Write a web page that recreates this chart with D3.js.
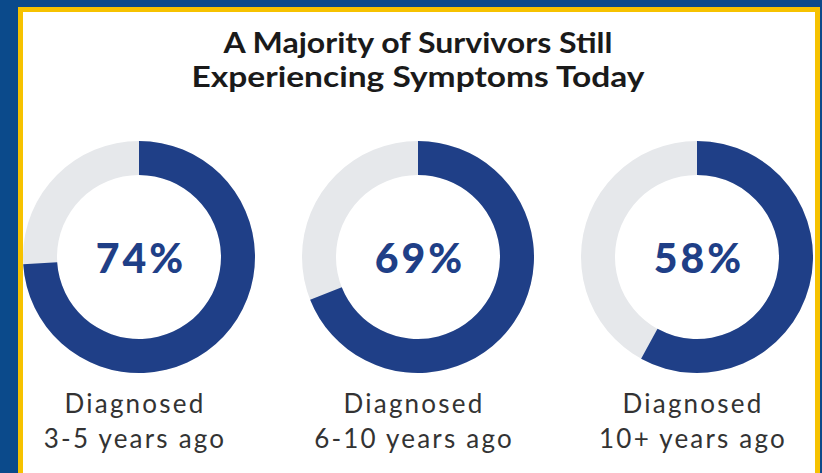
<!DOCTYPE html>
<html>
<head>
<meta charset="utf-8">
<script src="https://cdn.jsdelivr.net/npm/d3@7"></script>
<style>
  html, body { margin: 0; padding: 0; background: #0b4a8b; }
  svg { display: block; }
</style>
</head>
<body>
<svg id="chart" width="822" height="473"></svg>
<script>
const titleLines = ["A Majority of Survivors Still", "Experiencing Symptoms Today"];
const categories = ["Diagnosed\n3-5 years ago", "Diagnosed\n6-10 years ago", "Diagnosed\n10+ years ago"];
const values = [74, 69, 58];

const W = 822, H = 473;
const svg = d3.select("#chart");

// background + frame
svg.append("rect").attr("x", 0).attr("y", 0).attr("width", W).attr("height", H).attr("fill", "#0b4a8b");
svg.append("rect").attr("x", 18).attr("y", 7).attr("width", 802).attr("height", 480).attr("fill", "#f6c200");
svg.append("rect").attr("x", 23).attr("y", 12).attr("width", 792).attr("height", 480).attr("fill", "#ffffff");

// title
const title = svg.append("text")
  .attr("text-anchor", "middle")
  .attr("font-family", "Lato, 'Noto Sans', sans-serif")
  .attr("font-weight", 700)
  .attr("font-size", 28)
  .attr("fill", "#1a1a1a");
title.selectAll("tspan").data(titleLines).join("tspan")
  .attr("x", 418)
  .attr("y", (d, i) => 53 + i * 34)
  .attr("textLength", (d, i) => i === 0 ? 389 : 453)
  .attr("lengthAdjust", "spacingAndGlyphs")
  .text(d => d);

const x = d3.scalePoint().domain(categories).range([139, 697]);
const angle = d3.scaleLinear().domain([0, 100]).range([0, 2 * Math.PI]);
const cy = 257;
const arc = d3.arc().innerRadius(82).outerRadius(116);

const g = svg.selectAll("g.donut").data(categories).join("g")
  .attr("class", "donut")
  .attr("transform", d => `translate(${x(d)},${cy})`);

g.append("path")
  .attr("d", arc({startAngle: 0, endAngle: 2 * Math.PI}))
  .attr("fill", "#e6e8eb");

g.append("path")
  .attr("d", (d, i) => arc({startAngle: 0, endAngle: angle(values[i])}))
  .attr("fill", "#1f3f87");

g.append("text")
  .attr("text-anchor", "middle")
  .attr("x", 2)
  .attr("y", 16)
  .attr("font-family", "Lato, 'Noto Sans', sans-serif")
  .attr("font-weight", 900)
  .attr("font-size", 41)
  .attr("letter-spacing", 3)
  .attr("fill", "#1f3f87")
  .text((d, i) => values[i] + "%");

const labels = g.append("text")
  .attr("text-anchor", "middle")
  .attr("font-family", "Lato, 'Noto Sans', sans-serif")
  .attr("font-weight", 400)
  .attr("font-size", 26)
  .attr("letter-spacing", 2.2)
  .attr("fill", "#333333");
labels.selectAll("tspan").data(d => d.split("\n")).join("tspan")
  .attr("x", -4)
  .attr("y", (d, i) => 156 + i * 35)
  .text(d => d);
</script>
</body>
</html>
